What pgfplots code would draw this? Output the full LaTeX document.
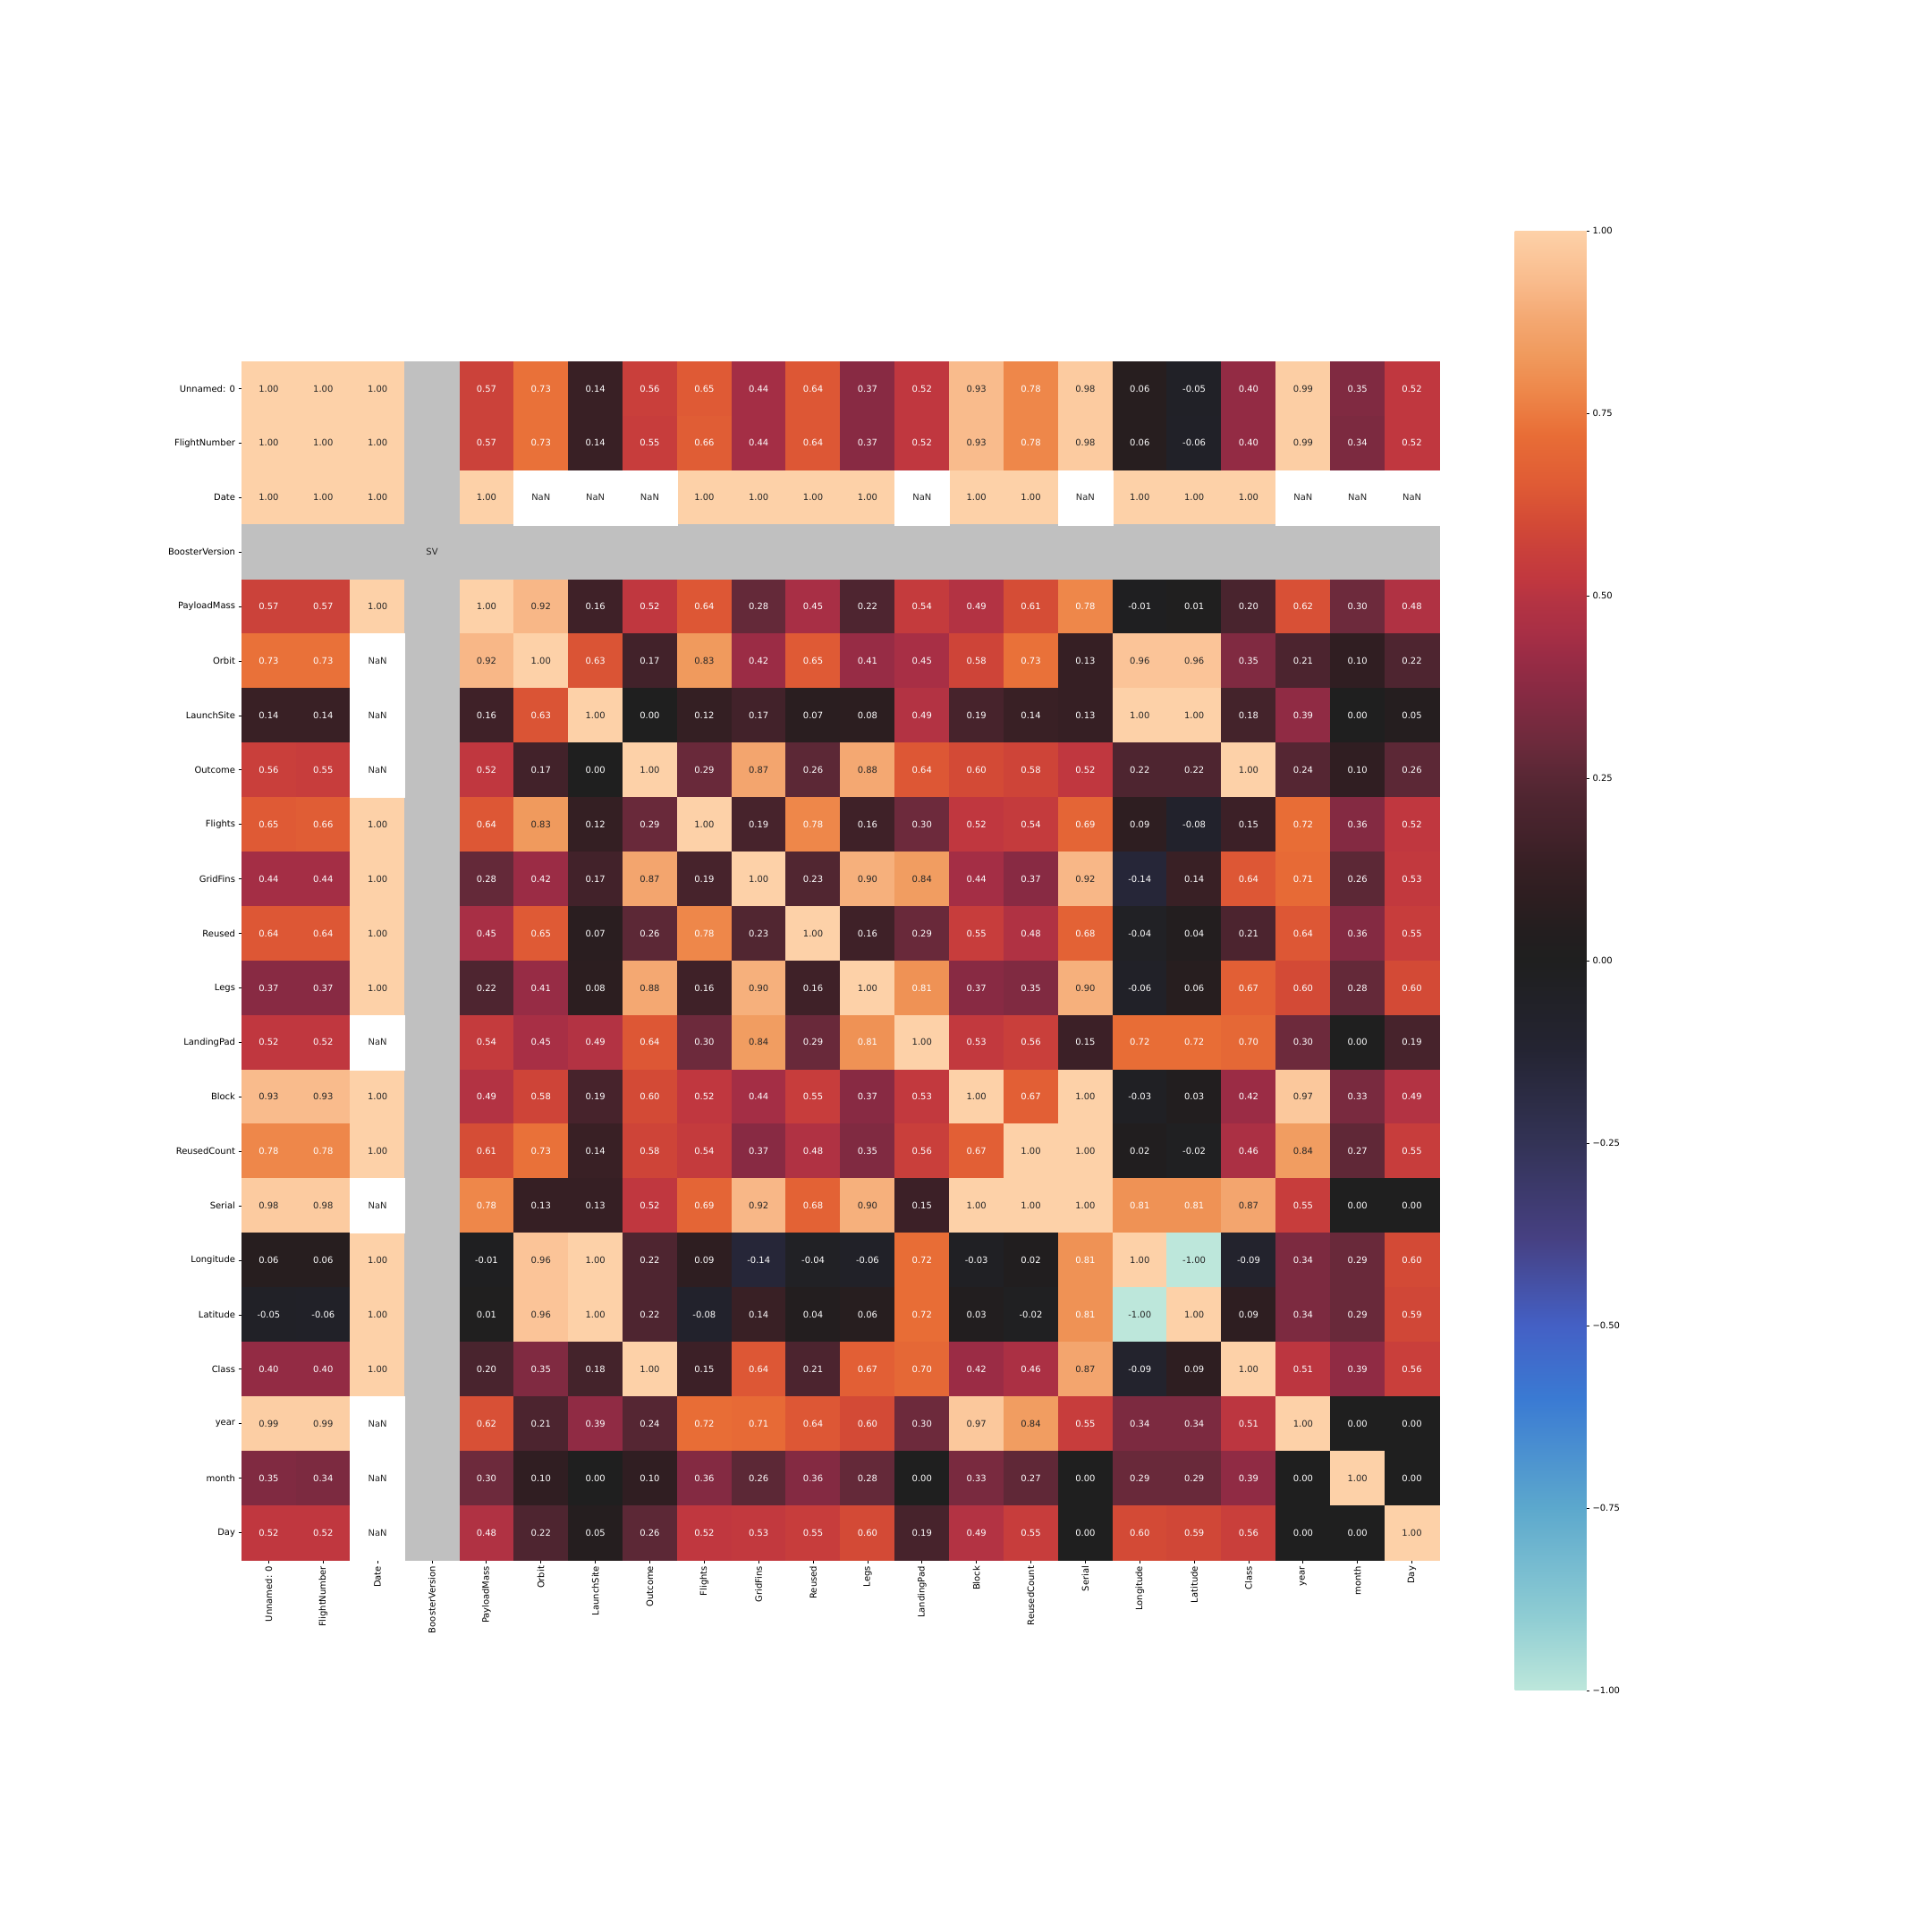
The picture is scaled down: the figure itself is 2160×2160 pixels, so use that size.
\documentclass[border=0pt]{standalone}
\usepackage{fontspec}
\setmainfont{DejaVu Sans}
\usepackage{pgfplots}
\usepackage{pgfplotstable}
\pgfplotsset{compat=1.18}

\definecolor{annotdark}{RGB}{38,38,38}
\definecolor{nagray}{RGB}{192,192,192}

% correlation matrix, long form: column x, row y, value v
% (NaN cells and the BoosterVersion row/column are drawn separately)
\pgfplotstableread[row sep=\\]{
x y v\\
0 0 1.00\\ 1 0 1.00\\ 2 0 1.00\\ 4 0 0.57\\ 5 0 0.73\\ 6 0 0.14\\ 7 0 0.56\\ 8 0 0.65\\ 9 0 0.44\\ 10 0 0.64\\ 11 0 0.37\\ 12 0 0.52\\ 13 0 0.93\\ 14 0 0.78\\ 15 0 0.98\\ 16 0 0.06\\ 17 0 -0.05\\ 18 0 0.40\\ 19 0 0.99\\ 20 0 0.35\\ 21 0 0.52\\
0 1 1.00\\ 1 1 1.00\\ 2 1 1.00\\ 4 1 0.57\\ 5 1 0.73\\ 6 1 0.14\\ 7 1 0.55\\ 8 1 0.66\\ 9 1 0.44\\ 10 1 0.64\\ 11 1 0.37\\ 12 1 0.52\\ 13 1 0.93\\ 14 1 0.78\\ 15 1 0.98\\ 16 1 0.06\\ 17 1 -0.06\\ 18 1 0.40\\ 19 1 0.99\\ 20 1 0.34\\ 21 1 0.52\\
0 2 1.00\\ 1 2 1.00\\ 2 2 1.00\\ 4 2 1.00\\ 8 2 1.00\\ 9 2 1.00\\ 10 2 1.00\\ 11 2 1.00\\ 13 2 1.00\\ 14 2 1.00\\ 16 2 1.00\\ 17 2 1.00\\ 18 2 1.00\\
0 4 0.57\\ 1 4 0.57\\ 2 4 1.00\\ 4 4 1.00\\ 5 4 0.92\\ 6 4 0.16\\ 7 4 0.52\\ 8 4 0.64\\ 9 4 0.28\\ 10 4 0.45\\ 11 4 0.22\\ 12 4 0.54\\ 13 4 0.49\\ 14 4 0.61\\ 15 4 0.78\\ 16 4 -0.01\\ 17 4 0.01\\ 18 4 0.20\\ 19 4 0.62\\ 20 4 0.30\\ 21 4 0.48\\
0 5 0.73\\ 1 5 0.73\\ 4 5 0.92\\ 5 5 1.00\\ 6 5 0.63\\ 7 5 0.17\\ 8 5 0.83\\ 9 5 0.42\\ 10 5 0.65\\ 11 5 0.41\\ 12 5 0.45\\ 13 5 0.58\\ 14 5 0.73\\ 15 5 0.13\\ 16 5 0.96\\ 17 5 0.96\\ 18 5 0.35\\ 19 5 0.21\\ 20 5 0.10\\ 21 5 0.22\\
0 6 0.14\\ 1 6 0.14\\ 4 6 0.16\\ 5 6 0.63\\ 6 6 1.00\\ 7 6 0.00\\ 8 6 0.12\\ 9 6 0.17\\ 10 6 0.07\\ 11 6 0.08\\ 12 6 0.49\\ 13 6 0.19\\ 14 6 0.14\\ 15 6 0.13\\ 16 6 1.00\\ 17 6 1.00\\ 18 6 0.18\\ 19 6 0.39\\ 20 6 0.00\\ 21 6 0.05\\
0 7 0.56\\ 1 7 0.55\\ 4 7 0.52\\ 5 7 0.17\\ 6 7 0.00\\ 7 7 1.00\\ 8 7 0.29\\ 9 7 0.87\\ 10 7 0.26\\ 11 7 0.88\\ 12 7 0.64\\ 13 7 0.60\\ 14 7 0.58\\ 15 7 0.52\\ 16 7 0.22\\ 17 7 0.22\\ 18 7 1.00\\ 19 7 0.24\\ 20 7 0.10\\ 21 7 0.26\\
0 8 0.65\\ 1 8 0.66\\ 2 8 1.00\\ 4 8 0.64\\ 5 8 0.83\\ 6 8 0.12\\ 7 8 0.29\\ 8 8 1.00\\ 9 8 0.19\\ 10 8 0.78\\ 11 8 0.16\\ 12 8 0.30\\ 13 8 0.52\\ 14 8 0.54\\ 15 8 0.69\\ 16 8 0.09\\ 17 8 -0.08\\ 18 8 0.15\\ 19 8 0.72\\ 20 8 0.36\\ 21 8 0.52\\
0 9 0.44\\ 1 9 0.44\\ 2 9 1.00\\ 4 9 0.28\\ 5 9 0.42\\ 6 9 0.17\\ 7 9 0.87\\ 8 9 0.19\\ 9 9 1.00\\ 10 9 0.23\\ 11 9 0.90\\ 12 9 0.84\\ 13 9 0.44\\ 14 9 0.37\\ 15 9 0.92\\ 16 9 -0.14\\ 17 9 0.14\\ 18 9 0.64\\ 19 9 0.71\\ 20 9 0.26\\ 21 9 0.53\\
0 10 0.64\\ 1 10 0.64\\ 2 10 1.00\\ 4 10 0.45\\ 5 10 0.65\\ 6 10 0.07\\ 7 10 0.26\\ 8 10 0.78\\ 9 10 0.23\\ 10 10 1.00\\ 11 10 0.16\\ 12 10 0.29\\ 13 10 0.55\\ 14 10 0.48\\ 15 10 0.68\\ 16 10 -0.04\\ 17 10 0.04\\ 18 10 0.21\\ 19 10 0.64\\ 20 10 0.36\\ 21 10 0.55\\
0 11 0.37\\ 1 11 0.37\\ 2 11 1.00\\ 4 11 0.22\\ 5 11 0.41\\ 6 11 0.08\\ 7 11 0.88\\ 8 11 0.16\\ 9 11 0.90\\ 10 11 0.16\\ 11 11 1.00\\ 12 11 0.81\\ 13 11 0.37\\ 14 11 0.35\\ 15 11 0.90\\ 16 11 -0.06\\ 17 11 0.06\\ 18 11 0.67\\ 19 11 0.60\\ 20 11 0.28\\ 21 11 0.60\\
0 12 0.52\\ 1 12 0.52\\ 4 12 0.54\\ 5 12 0.45\\ 6 12 0.49\\ 7 12 0.64\\ 8 12 0.30\\ 9 12 0.84\\ 10 12 0.29\\ 11 12 0.81\\ 12 12 1.00\\ 13 12 0.53\\ 14 12 0.56\\ 15 12 0.15\\ 16 12 0.72\\ 17 12 0.72\\ 18 12 0.70\\ 19 12 0.30\\ 20 12 0.00\\ 21 12 0.19\\
0 13 0.93\\ 1 13 0.93\\ 2 13 1.00\\ 4 13 0.49\\ 5 13 0.58\\ 6 13 0.19\\ 7 13 0.60\\ 8 13 0.52\\ 9 13 0.44\\ 10 13 0.55\\ 11 13 0.37\\ 12 13 0.53\\ 13 13 1.00\\ 14 13 0.67\\ 15 13 1.00\\ 16 13 -0.03\\ 17 13 0.03\\ 18 13 0.42\\ 19 13 0.97\\ 20 13 0.33\\ 21 13 0.49\\
0 14 0.78\\ 1 14 0.78\\ 2 14 1.00\\ 4 14 0.61\\ 5 14 0.73\\ 6 14 0.14\\ 7 14 0.58\\ 8 14 0.54\\ 9 14 0.37\\ 10 14 0.48\\ 11 14 0.35\\ 12 14 0.56\\ 13 14 0.67\\ 14 14 1.00\\ 15 14 1.00\\ 16 14 0.02\\ 17 14 -0.02\\ 18 14 0.46\\ 19 14 0.84\\ 20 14 0.27\\ 21 14 0.55\\
0 15 0.98\\ 1 15 0.98\\ 4 15 0.78\\ 5 15 0.13\\ 6 15 0.13\\ 7 15 0.52\\ 8 15 0.69\\ 9 15 0.92\\ 10 15 0.68\\ 11 15 0.90\\ 12 15 0.15\\ 13 15 1.00\\ 14 15 1.00\\ 15 15 1.00\\ 16 15 0.81\\ 17 15 0.81\\ 18 15 0.87\\ 19 15 0.55\\ 20 15 0.00\\ 21 15 0.00\\
0 16 0.06\\ 1 16 0.06\\ 2 16 1.00\\ 4 16 -0.01\\ 5 16 0.96\\ 6 16 1.00\\ 7 16 0.22\\ 8 16 0.09\\ 9 16 -0.14\\ 10 16 -0.04\\ 11 16 -0.06\\ 12 16 0.72\\ 13 16 -0.03\\ 14 16 0.02\\ 15 16 0.81\\ 16 16 1.00\\ 17 16 -1.00\\ 18 16 -0.09\\ 19 16 0.34\\ 20 16 0.29\\ 21 16 0.60\\
0 17 -0.05\\ 1 17 -0.06\\ 2 17 1.00\\ 4 17 0.01\\ 5 17 0.96\\ 6 17 1.00\\ 7 17 0.22\\ 8 17 -0.08\\ 9 17 0.14\\ 10 17 0.04\\ 11 17 0.06\\ 12 17 0.72\\ 13 17 0.03\\ 14 17 -0.02\\ 15 17 0.81\\ 16 17 -1.00\\ 17 17 1.00\\ 18 17 0.09\\ 19 17 0.34\\ 20 17 0.29\\ 21 17 0.59\\
0 18 0.40\\ 1 18 0.40\\ 2 18 1.00\\ 4 18 0.20\\ 5 18 0.35\\ 6 18 0.18\\ 7 18 1.00\\ 8 18 0.15\\ 9 18 0.64\\ 10 18 0.21\\ 11 18 0.67\\ 12 18 0.70\\ 13 18 0.42\\ 14 18 0.46\\ 15 18 0.87\\ 16 18 -0.09\\ 17 18 0.09\\ 18 18 1.00\\ 19 18 0.51\\ 20 18 0.39\\ 21 18 0.56\\
0 19 0.99\\ 1 19 0.99\\ 4 19 0.62\\ 5 19 0.21\\ 6 19 0.39\\ 7 19 0.24\\ 8 19 0.72\\ 9 19 0.71\\ 10 19 0.64\\ 11 19 0.60\\ 12 19 0.30\\ 13 19 0.97\\ 14 19 0.84\\ 15 19 0.55\\ 16 19 0.34\\ 17 19 0.34\\ 18 19 0.51\\ 19 19 1.00\\ 20 19 0.00\\ 21 19 0.00\\
0 20 0.35\\ 1 20 0.34\\ 4 20 0.30\\ 5 20 0.10\\ 6 20 0.00\\ 7 20 0.10\\ 8 20 0.36\\ 9 20 0.26\\ 10 20 0.36\\ 11 20 0.28\\ 12 20 0.00\\ 13 20 0.33\\ 14 20 0.27\\ 15 20 0.00\\ 16 20 0.29\\ 17 20 0.29\\ 18 20 0.39\\ 19 20 0.00\\ 20 20 1.00\\ 21 20 0.00\\
0 21 0.52\\ 1 21 0.52\\ 4 21 0.48\\ 5 21 0.22\\ 6 21 0.05\\ 7 21 0.26\\ 8 21 0.52\\ 9 21 0.53\\ 10 21 0.55\\ 11 21 0.60\\ 12 21 0.19\\ 13 21 0.49\\ 14 21 0.55\\ 15 21 0.00\\ 16 21 0.60\\ 17 21 0.59\\ 18 21 0.56\\ 19 21 0.00\\ 20 21 0.00\\ 21 21 1.00\\
}\corr

% approximation of seaborn's icefire, positions = 100*(value+1)
\pgfplotsset{
  colormap={icefire}{
    rgb255(0pt)=(189,231,219)
    rgb255(10pt)=(143,205,211)
    rgb255(25pt)=(92,168,205)
    rgb255(40pt)=(58,122,211)
    rgb255(50pt)=(68,96,197)
    rgb255(62pt)=(70,64,130)
    rgb255(75pt)=(51,51,86)
    rgb255(88pt)=(36,36,50)
    rgb255(100pt)=(31,31,31)
    rgb255(104pt)=(35,30,31)
    rgb255(108pt)=(44,30,32)
    rgb255(113pt)=(54,31,36)
    rgb255(117pt)=(66,34,42)
    rgb255(122pt)=(78,37,48)
    rgb255(126pt)=(92,40,54)
    rgb255(130pt)=(109,42,60)
    rgb255(137pt)=(136,42,67)
    rgb255(142pt)=(155,44,69)
    rgb255(145pt)=(168,47,69)
    rgb255(149pt)=(179,51,67)
    rgb255(152pt)=(192,55,63)
    rgb255(156pt)=(201,63,59)
    rgb255(160pt)=(211,74,54)
    rgb255(165pt)=(223,90,53)
    rgb255(172pt)=(232,109,54)
    rgb255(178pt)=(238,135,74)
    rgb255(183pt)=(240,154,93)
    rgb255(188pt)=(244,168,114)
    rgb255(193pt)=(249,187,140)
    rgb255(200pt)=(253,209,168)
  },
  cell/.style={only marks, mark=square*, mark size=30.5bp},
  celltext/.style={only marks, mark=none, point meta=explicit,
    nodes near coords={\pgfmathprintnumber[fixed, fixed zerofill, precision=2, assume math mode=true]{\pgfplotspointmeta}},
    every node near coord/.append style={anchor=center, text=#1}},
}

\begin{document}
\begin{tikzpicture}
\useasboundingbox (0,0) rectangle (2160bp,2160bp);
\begin{axis}[
    at={(939.5bp,1086bp)}, anchor=center,
    scale only axis, width=1339bp, height=1340bp,
    xmin=-0.5, xmax=21.5, ymin=-0.5, ymax=21.5,
    y dir=reverse,
    axis line style={draw=none},
    tick align=outside, major tick length=3.5bp,
    xtick pos=left, ytick pos=left,
    tick style={black, line width=0.8bp},
    xtick={0,...,21}, ytick={0,...,21},
    xticklabels={Unnamed: 0, FlightNumber, Date, BoosterVersion, PayloadMass, Orbit, LaunchSite, Outcome, Flights, GridFins, Reused, Legs, LandingPad, Block, ReusedCount, Serial, Longitude, Latitude, Class, year, month, Day},
    yticklabels={Unnamed: 0, FlightNumber, Date, BoosterVersion, PayloadMass, Orbit, LaunchSite, Outcome, Flights, GridFins, Reused, Legs, LandingPad, Block, ReusedCount, Serial, Longitude, Latitude, Class, year, month, Day},
    xticklabel style={rotate=90, anchor=east},
    colormap name=icefire,
    point meta min=-1, point meta max=1,
    colorbar,
    colorbar/width=80bp,
    colorbar style={
        at={(parent axis.east)}, anchor=west, xshift=76bp,
        height=1632bp,
        axis line style={draw=none},
        ytick={-1,-0.75,-0.5,-0.25,0,0.25,0.5,0.75,1},
        yticklabels={−1.00,−0.75,−0.50,−0.25,0.00,0.25,0.50,0.75,1.00},
        tick align=outside, major tick length=3.5bp,
        ytick pos=right, yticklabel pos=right,
        tick style={black, line width=0.8bp},
    },
]
% coloured cells
\addplot[cell, scatter, point meta=explicit,
    scatter/use mapped color={draw=mapped color, fill=mapped color}]
    table[x=x, y=y, meta=v] {\corr};
% values: white on dark cells, dark on light cells
\addplot[celltext=white, restrict expr to domain={abs(\thisrow{v})}{0:0.815}]
    table[x=x, y=y, meta=v] {\corr};
\addplot[celltext=annotdark, restrict expr to domain={abs(\thisrow{v})}{0.815:2}]
    table[x=x, y=y, meta=v] {\corr};
% BoosterVersion row and column
\addplot[cell, mark options={draw=nagray, fill=nagray}] coordinates {
(0,3) (1,3) (2,3) (4,3) (5,3) (6,3) (7,3) (8,3) (9,3) (10,3) (11,3) (12,3) (13,3) (14,3) (15,3) (16,3) (17,3) (18,3) (19,3) (20,3) (21,3)
(3,0) (3,1) (3,2) (3,4) (3,5) (3,6) (3,7) (3,8) (3,9) (3,10) (3,11) (3,12) (3,13) (3,14) (3,15) (3,16) (3,17) (3,18) (3,19) (3,20) (3,21)
};
\addplot[cell, mark options={draw=nagray, fill=nagray},
    nodes near coords={SV},
    every node near coord/.append style={anchor=center, text=annotdark}] coordinates {(3,3)};
% NaN cells
\addplot[cell, mark options={draw=white, fill=white},
    nodes near coords={NaN},
    every node near coord/.append style={anchor=center, text=annotdark}] coordinates {
(5,2) (6,2) (7,2) (12,2) (15,2) (19,2) (20,2) (21,2)
(2,5) (2,6) (2,7) (2,12) (2,15) (2,19) (2,20) (2,21)
};
\end{axis}
\end{tikzpicture}
\end{document}
